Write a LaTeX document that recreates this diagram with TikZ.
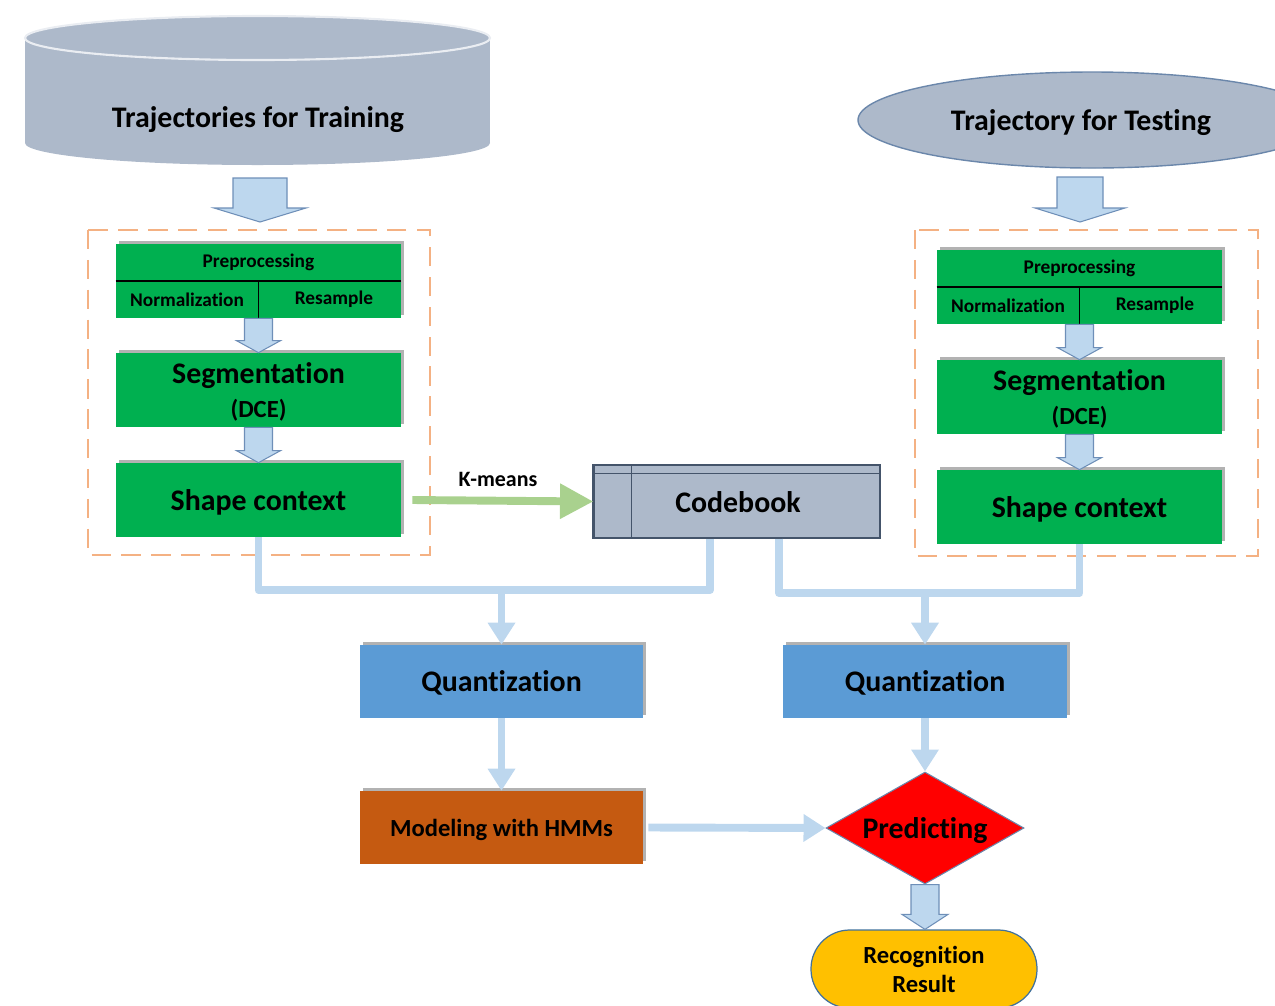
\documentclass[tikz,border=0pt]{standalone}
\usepackage{fontspec}
\setmainfont{Carlito}[Ligatures={NoCommon,NoContextual}]
\usetikzlibrary{shapes.geometric,arrows.meta,shadows,calc}
\newcommand\PXU{0.02cm}
\newcommand\myfs[2]{\fontsize{#1}{#2}\selectfont}
\definecolor{cylfill}{HTML}{ADB9CA}
\definecolor{ellline}{HTML}{6B87AB}
\definecolor{grn}{HTML}{00B050}
\definecolor{qblue}{HTML}{5B9BD5}
\definecolor{hmmfill}{HTML}{C55A11}
\definecolor{resfill}{HTML}{FFC000}
\definecolor{resline}{HTML}{41719C}
\definecolor{connblue}{HTML}{BDD7EE}
\definecolor{arrline}{HTML}{6E8FB8}
\definecolor{dashor}{HTML}{F4B183}
\definecolor{kgreen}{HTML}{A9D18E}
\definecolor{cbline}{HTML}{44546A}
\tikzset{
  shad/.style={drop shadow={shadow xshift=1.6pt, shadow yshift=1.6pt, opacity=0.3, fill=black}},
  gbox/.style={shad, fill=grn, minimum width=285*\PXU, minimum height=74*\PXU, inner sep=0pt, align=center, text depth=0pt},
  bigt/.style={font=\myfs{17}{20}\bfseries},
  smallt/.style={font=\myfs{11}{13}\bfseries, inner sep=0pt},
  conn/.style={draw=connblue, line width=4.5pt, line join=round},
  connarr/.style={conn, -{Triangle[length=12.5pt,width=15pt]}},
  barrow/.style={draw=arrline, fill=connblue, line width=0.6pt, line join=miter},
  dbox/.style={draw=dashor, line width=1.1pt, dash pattern=on 11pt off 6pt},
}
\newcommand\blockarrow[5]{%
  \draw[barrow] let \p1=(#1), \p2=(#2) in
    (\x1-#3,\y1) -- (\x1+#3,\y1) -- (\x1+#3,\y2+#5) -- (\x1+#4,\y2+#5) -- (\x1,\y2)
    -- (\x1-#4,\y2+#5) -- (\x1-#3,\y2+#5) -- cycle;}
\begin{document}
\begin{tikzpicture}[x=0.02cm,y=-0.02cm]
\useasboundingbox (0,0) rectangle (1275,1005);

% training cylinder
\fill[cylfill] (257.5,143) ellipse [x radius=232.5*\PXU, y radius=22*\PXU];
\fill[cylfill] (25,38) rectangle (490,143);
\draw[fill=cylfill, draw=white!75!cylfill, line width=1.2pt] (257.5,38) ellipse [x radius=232.5*\PXU, y radius=22*\PXU];
\node[bigt, text depth=0pt] (train) at (258,117) {Trajectories for Training};

% testing ellipse
\draw[draw=ellline, fill=cylfill, line width=0.8pt] (1092,120) ellipse [x radius=234*\PXU, y radius=48*\PXU];
\node[bigt, text depth=0pt] (test) at (1081,120) {Trajectory for Testing};

% dashed groups
\draw[dbox] (88,230) rectangle (430,555);
\draw[dbox] (915,230) rectangle (1258,556);

% left column
\node[gbox] (pre1) at (258.5,281) {};
\draw[line width=0.8pt] (pre1.west) -- (pre1.east);
\draw[line width=0.8pt] (pre1.center) -- (pre1.south);
\node[smallt] (pre1t) at ($(pre1.north)!0.5!(pre1.center)$) {Preprocessing};
\node[smallt] (norm1) at ($(pre1.south west)!0.5!(pre1.center)$) {Normalization};
\node[smallt] (res1) at ($(pre1.south east)!0.5!(pre1.center)+(4,0)$) {Resample};
\node[gbox, bigt] (seg1) at (258.5,390) {Segmentation\\[-1pt]{\myfs{14}{17}(DCE)}};
\node[gbox, bigt] (sc1) at (258.5,500) {Shape context};

% right column
\node[gbox] (pre2) at (1079.5,287) {};
\draw[line width=0.8pt] (pre2.west) -- (pre2.east);
\draw[line width=0.8pt] (pre2.center) -- (pre2.south);
\node[smallt] (pre2t) at ($(pre2.north)!0.5!(pre2.center)$) {Preprocessing};
\node[smallt] (norm2) at ($(pre2.south west)!0.5!(pre2.center)$) {Normalization};
\node[smallt] (res2) at ($(pre2.south east)!0.5!(pre2.center)+(4,0)$) {Resample};
\node[gbox, bigt] (seg2) at (1079.5,397) {Segmentation\\[-1pt]{\myfs{14}{17}(DCE)}};
\node[gbox, bigt] (sc2) at (1079.5,507) {Shape context};

% codebook
\node[bigt, fill=cylfill, draw=cbline, line width=0.7pt, minimum width=286*\PXU, minimum height=73*\PXU, inner sep=0pt] (cb) at (737,501.5) {};
\draw[cbline, line width=0.7pt] ([xshift=38*\PXU]cb.north west) -- ([xshift=38*\PXU]cb.south west);
\draw[cbline, line width=0.5pt] ([yshift=-9*\PXU]cb.north west) -- ([yshift=-9*\PXU]cb.north east);
\draw[cbline, line width=1.4pt] (cb.north west) -- (cb.south west);
\node[bigt, text depth=0pt] (cbt) at (738,502) {Codebook};

% quantization, modeling
\node[gbox, bigt, fill=qblue, minimum width=283*\PXU, minimum height=73*\PXU] (q1) at (501.5,681.5) {Quantization};
\node[gbox, bigt, fill=qblue, minimum width=284*\PXU, minimum height=73*\PXU] (q2) at (925,681.5) {Quantization};
\node[gbox, font=\myfs{14}{17}\bfseries, fill=hmmfill, minimum width=283*\PXU, minimum height=73*\PXU] (hmm) at (501.5,827.5) {Modeling with HMMs};
\node[diamond, aspect=1.77, bigt, draw=ellline, line width=0.6pt, fill=red, minimum width=198*\PXU, minimum height=112*\PXU, inner sep=0pt, text depth=0pt] (pred) at (925,828) {Predicting};
\node[draw=resline, line width=0.7pt, fill=resfill, rounded corners=22pt, minimum width=226*\PXU, minimum height=78*\PXU, align=center, font=\myfs{14}{16.5}\bfseries, inner sep=0pt] (res) at (924,969) {Recognition\\Result};

% block arrows
\coordinate (a1s) at (260,178); \coordinate (a1e) at (260,222);
\coordinate (a2s) at (1080,177); \coordinate (a2e) at (1080,222);
\blockarrow{a1s}{a1e}{27*\PXU}{46*\PXU}{14*\PXU}
\blockarrow{a2s}{a2e}{23*\PXU}{45*\PXU}{14*\PXU}
\blockarrow{pre1.south}{seg1.north}{14*\PXU}{22*\PXU}{12*\PXU}
\blockarrow{seg1.south}{sc1.north}{14*\PXU}{22*\PXU}{12*\PXU}
\blockarrow{pre2.south}{seg2.north}{14*\PXU}{22*\PXU}{12*\PXU}
\blockarrow{seg2.south}{sc2.north}{14*\PXU}{22*\PXU}{12*\PXU}
\blockarrow{pred.south}{res.north}{14*\PXU}{23*\PXU}{15*\PXU}

% k-means
\draw[draw=kgreen, line width=4.5pt, -{Triangle[length=19pt,width=19pt]}] ([xshift=11*\PXU]sc1.east) -- (cb.west);
\node[font=\myfs{12.5}{15}\bfseries] (km) at (498,479) {K-means};

% connectors
\coordinate (cbl) at ([xshift=-27*\PXU]cb.south);
\coordinate (cbr) at ([xshift=42*\PXU]cb.south);
\draw[conn] (sc1.south) |- (cbl |- 0,590) -- (cbl);
\draw[connarr] (q1.north |- 0,590) -- (q1.north);
\draw[conn] (cbr) |- (sc2.south |- 0,593) -- (sc2.south);
\draw[connarr] (q2.north |- 0,593) -- (q2.north);
\draw[connarr] (q1.south) -- (hmm.north);
\draw[connarr] (q2.south) -- (pred.north);
\draw[connarr] ([xshift=5*\PXU]hmm.east) -- (pred.west);
\end{tikzpicture}
\end{document}
